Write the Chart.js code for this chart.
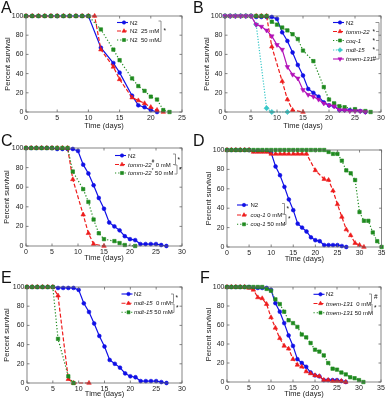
<!DOCTYPE html>
<html lang="en">
<head>
    <meta charset="UTF-8">
    <title>Survival curves</title>
    <script src="https://cdn.jsdelivr.net/npm/chart.js"></script>
    <style>
        body { margin: 0; background: #fff; font-family: "Liberation Sans", Arial, sans-serif; }
        #fig { position: relative; width: 387px; height: 400px; overflow: hidden; }
        #fig canvas { position: absolute; }
        .tag { position: absolute; font-size: 16px; line-height: 16px; color: #111; }
    </style>
</head>
<body>
<div id="fig">
    <canvas id="chartA" width="193" height="130" style="left:0;top:0"></canvas>
    <canvas id="chartB" width="194" height="130" style="left:193px;top:0"></canvas>
    <canvas id="chartC" width="193" height="135" style="left:0;top:130px"></canvas>
    <canvas id="chartD" width="194" height="135" style="left:193px;top:130px"></canvas>
    <canvas id="chartE" width="193" height="135" style="left:0;top:265px"></canvas>
    <canvas id="chartF" width="194" height="135" style="left:193px;top:265px"></canvas>
    <div class="tag" style="left:1px;top:0">A</div>
    <div class="tag" style="left:193px;top:0">B</div>
    <div class="tag" style="left:1px;top:133px">C</div>
    <div class="tag" style="left:193px;top:133px">D</div>
    <div class="tag" style="left:1px;top:270px">E</div>
    <div class="tag" style="left:200px;top:270px">F</div>
</div>

<script>
    // ---- data (days, percent survival) ----
    // panel A
    const aN2Days = [0,1,2,3,4,5,6,7,8,9,10,12,14,15,17,18,19,20,21];
    const aN2Surv = [100,100,100,100,100,100,100,100,100,100,100,67,51,41,17,7,5,2,0];
    const a25Days = [0,1,2,3,4,5,6,7,8,9,10,11,12,14,15,17,18,19,20,21,22];
    const a25Surv = [100,100,100,100,100,100,100,100,100,100,100,100,65,47,34,15,12,9,5,2,0];
    const a50Days = [0,1,2,3,4,5,6,7,8,9,10,12,14,15,17,18,19,20,21,22,23];
    const a50Surv = [100,100,100,100,100,100,100,100,100,100,100,86,65,54,35,27,22,16,13,2,0];

    // N2 control used in B-F
    const n2Days = [0,1,2,3,4,5,6,7,8,9,10,11,12,13,14,15,16,17,18,19,20,21,22,23,24,25,26,27];
    const n2Surv = [100,100,100,100,100,100,99,99,99,99,97,83,74,62,49,38,24,20,16,10,7,6,2,2,2,2,1,0];

    // tomm-22
    const tommDays = [0,1,2,3,4,5,6,7,8,9,11,12,13,15];
    const tommSurv = [100,100,100,100,100,100,100,100,100,68,32,13,2,0];
    const tomm50Days = [0,1,2,3,4,5,6,7,8,9,11,12,13,14,15,17,18,19,21];
    const tomm50Surv = [100,100,100,100,100,100,100,100,100,76,58,45,27,13,7,5,3,1,0];

    // coq-1 (panel B)
    const coqDays = [0,1,2,3,4,5,6,7,8,9,10,11,12,13,14,15,17,19,20,21,22,23,25,27,28];
    const coqSurv = [100,100,100,100,100,100,100,100,100,94,91,88,85,81,76,64,53,26,13,9,6,5,3,1,0];

    // mdt-15
    const mdtDays = [0,1,2,3,4,5,6,8,9,12];
    const mdtSurv = [100,100,100,100,100,100,91,4,0,0];
    const mdt50Days = [0,1,2,3,4,5,6,8,9];
    const mdt50Surv = [100,100,100,100,100,100,46,7,0];

    // tmem-131 (panel B)
    const tmemDays = [0,1,2,3,4,5,6,7,8,9,10,11,12,13,14,15,16,17,18,19,20,21,22,23,24,25,26,27];
    const tmemSurv = [100,100,100,100,100,100,91,89,85,79,70,65,47,39,35,23,18,16,13,9,7,6,2,2,1,1,1,0];

    // coq-1 0 / 50 mM (panel D)
    const coq0Days = [0,1,2,3,4,5,6,7,8,9,10,11,12,13,14,15,16,17,18,20,22,23,24,25,26,27,28,29,30,31];
    const coq0Surv = [100,100,100,100,100,100,98,98,98,98,96,96,96,96,96,96,96,96,96,79,70,69,58,44,31,18,12,4,2,0];
    const coq50Days = [0,1,2,3,4,5,6,7,8,9,10,11,12,13,14,15,16,17,18,19,20,21,22,23,24,25,26,27,28,29,30,31,32,33,34,35];
    const coq50Surv = [100,100,100,100,100,100,100,100,100,100,100,100,100,100,100,100,100,100,100,100,100,100,100,98,96,96,89,79,76,69,36,27,27,15,6,0];

    // tmem-131 0 / 50 mM (panel F)
    const tmem0Days = [0,1,2,3,4,5,6,7,8,9,10,11,12,13,14,15,16,17,18,19,20,21,22,23,24,25,26,27];
    const tmem0Surv = [100,100,100,100,100,99,97,89,88,82,68,57,46,38,35,24,18,16,11,9,7,6,2,2,1,1,1,0];
    const tmem50Days = [0,1,2,3,4,5,6,7,8,9,10,11,12,13,14,15,16,17,18,19,20,21,22,23,24,25,26,27,28,29,30,31];
    const tmem50Surv = [100,100,100,100,100,100,100,100,100,98,96,87,82,74,65,62,58,50,47,41,34,32,28,20,14,13,10,8,5,4,2,0];

    // ---- styles ----
    const BLUE = '#1010e6', RED = '#ee1c1c', GREEN = '#1f8a1f', CYAN = '#38c8c8', MAGENTA = '#b312b8';
    const styles = {
        blue:    { color: BLUE,    dash: [],     shape: 'circle',   r: 1.9, rot: 0 },
        red:     { color: RED,     dash: [4, 2], shape: 'triangle', r: 2.6, rot: 0 },
        green:   { color: GREEN,   dash: [1.2, 2], shape: 'rect',   r: 2.4, rot: 0 },
        cyan:    { color: CYAN,    dash: [1.2, 1.6], shape: 'rectRot', r: 2.6, rot: 0 },
        magenta: { color: MAGENTA, dash: [],     shape: 'triangle', r: 2.6, rot: 180 }
    };

    const FONT = '"Liberation Sans", Arial, sans-serif';
    const pts = (d, s) => d.map((x, i) => ({ x: x, y: s[i] }));

    function drawMarker(ctx, shape, x, y, r, rot) {
        ctx.beginPath();
        if (shape === 'circle') {
            ctx.arc(x, y, r, 0, Math.PI * 2);
        } else if (shape === 'rect') {
            const h = r * Math.SQRT1_2;
            ctx.rect(x - h, y - h, 2 * h, 2 * h);
        } else if (shape === 'rectRot') {
            ctx.moveTo(x, y - r); ctx.lineTo(x + r, y); ctx.lineTo(x, y + r); ctx.lineTo(x - r, y); ctx.closePath();
        } else {
            let a = rot * Math.PI / 180;
            ctx.moveTo(x + Math.sin(a) * r, y - Math.cos(a) * r);
            a += 2 * Math.PI / 3;
            ctx.lineTo(x + Math.sin(a) * r, y - Math.cos(a) * r);
            a += 2 * Math.PI / 3;
            ctx.lineTo(x + Math.sin(a) * r, y - Math.cos(a) * r);
            ctx.closePath();
        }
        ctx.fill();
        ctx.stroke();
    }

    // frame, inward ticks, legend, significance brackets
    const extras = {
        id: 'extras',
        afterDatasetsDraw(chart, args, o) {
            const ctx = chart.ctx, a = chart.chartArea;
            const ox = o.ox, oy = o.oy;
            ctx.save();
            ctx.strokeStyle = '#666';
            ctx.lineWidth = 0.8;
            ctx.setLineDash([]);
            ctx.strokeRect(a.left, a.top, a.right - a.left, a.bottom - a.top);
            // inward tick marks
            ctx.beginPath();
            chart.scales.x.ticks.forEach(t => {
                const px = chart.scales.x.getPixelForValue(t.value);
                ctx.moveTo(px, a.bottom); ctx.lineTo(px, a.bottom - 2.5);
                ctx.moveTo(px, a.top); ctx.lineTo(px, a.top + 2.5);
            });
            chart.scales.y.ticks.forEach(t => {
                const py = chart.scales.y.getPixelForValue(t.value);
                ctx.moveTo(a.left, py); ctx.lineTo(a.left + 2.5, py);
                ctx.moveTo(a.right, py); ctx.lineTo(a.right - 2.5, py);
            });
            ctx.stroke();

            // legend rows
            const lg = o.legend;
            lg.rows.forEach((parts, i) => {
                const st = o.sets[i];
                const y = lg.y[i] - oy, x = lg.x - ox;
                ctx.strokeStyle = st.color;
                ctx.fillStyle = st.color;
                ctx.lineWidth = 1.1;
                ctx.setLineDash(st.dash);
                ctx.beginPath(); ctx.moveTo(x, y); ctx.lineTo(x + 11, y); ctx.stroke();
                ctx.setLineDash([]);
                ctx.lineWidth = 0.6;
                drawMarker(ctx, st.shape, x + 7, y, st.r * 0.9, st.rot);
                let tx = lg.tx - ox;
                ctx.fillStyle = '#111';
                ctx.textBaseline = 'middle';
                ctx.textAlign = 'left';
                parts.forEach(p => {
                    const size = p.sup ? 4.5 : 6;
                    ctx.font = (p.it ? 'italic ' : '') + size + 'px ' + FONT;
                    ctx.fillText(p.t, tx, p.sup ? y - 2.5 : y + 0.5);
                    tx += ctx.measureText(p.t).width;
                });
            });

            // brackets
            ctx.strokeStyle = '#777';
            ctx.lineWidth = 0.8;
            (o.paths || []).forEach(path => {
                ctx.beginPath();
                path.forEach((p, k) => k ? ctx.lineTo(p[0] - ox, p[1] - oy) : ctx.moveTo(p[0] - ox, p[1] - oy));
                ctx.stroke();
            });
            ctx.fillStyle = '#111';
            ctx.font = '6.5px ' + FONT;
            ctx.textBaseline = 'middle';
            ctx.textAlign = 'left';
            (o.syms || []).forEach(s => ctx.fillText(s.t, s.x - ox, s.y - oy));
            ctx.restore();
        }
    };

    function makePanel(id, g, xMax, series, legend, paths, syms) {
        const sets = series.map(s => styles[s.style]);
        const datasets = series.map((s, i) => {
            const st = styles[s.style];
            return {
                data: pts(s.days, s.surv),
                borderColor: st.color,
                backgroundColor: st.color,
                borderWidth: 1.2,
                borderDash: st.dash,
                pointStyle: st.shape,
                pointRotation: st.rot,
                pointRadius: st.r,
                pointBorderWidth: 0.6,
                pointBackgroundColor: st.color,
                pointBorderColor: st.color,
                tension: 0,
                clip: false,
                order: series.length - i
            };
        });
        const tickFont = { family: FONT, size: 7 };
        const titleFont = { family: FONT, size: 7.5 };
        new Chart(document.getElementById(id), {
            type: 'line',
            data: { datasets: datasets },
            options: {
                responsive: false,
                animation: false,
                events: [],
                layout: {
                    autoPadding: false,
                    padding: { left: 0, top: g.pt - g.top, right: g.left + g.w - g.pr, bottom: 0 }
                },
                plugins: {
                    legend: { display: false },
                    tooltip: { enabled: false },
                    extras: { ox: g.left, oy: g.top, sets: sets, legend: legend, paths: paths, syms: syms }
                },
                scales: {
                    x: {
                        type: 'linear', min: 0, max: xMax,
                        ticks: { stepSize: 5, padding: 1.5, font: tickFont, color: '#222', maxRotation: 0 },
                        grid: { display: false, drawTicks: false },
                        border: { display: false },
                        title: { display: true, text: 'Time (days)', font: titleFont, color: '#222',
                                 padding: { top: 0, bottom: g.xtp } },
                        afterFit: s => { s.height = g.top + g.h - g.pb; }
                    },
                    y: {
                        min: 0, max: 100,
                        ticks: { stepSize: 20, padding: 2.5, font: tickFont, color: '#222' },
                        grid: { display: false, drawTicks: false },
                        border: { display: false },
                        title: { display: true, text: 'Percent survival', font: titleFont, color: '#222',
                                 padding: { top: g.ytp, bottom: 0 } },
                        afterFit: s => { s.width = g.pl - g.left; }
                    }
                }
            },
            plugins: [extras]
        });
    }

    const T = (t, it, sup) => ({ t: t, it: !!it, sup: !!sup });

    // A
    makePanel('chartA', { left: 0, top: 0, w: 193, h: 130, pl: 26, pr: 182, pt: 16, pb: 112, ytp: 3, xtp: 0 }, 25,
        [{ days: aN2Days, surv: aN2Surv, style: 'blue' },
         { days: a25Days, surv: a25Surv, style: 'red' },
         { days: a50Days, surv: a50Surv, style: 'green' }],
        { x: 117, tx: 130, y: [22.5, 31, 40],
          rows: [[T('N2')], [T('N2  25 mM')], [T('N2  50 mM')]] },
        [[[158.5, 21], [161, 21], [161, 41.5], [158.5, 41.5]]],
        [{ t: '*', x: 163.5, y: 31.5 }]);

    // B
    makePanel('chartB', { left: 193, top: 0, w: 194, h: 130, pl: 225, pr: 381, pt: 16, pb: 112, ytp: 9.5, xtp: 0 }, 30,
        [{ days: n2Days, surv: n2Surv, style: 'blue' },
         { days: tommDays, surv: tommSurv, style: 'red' },
         { days: coqDays, surv: coqSurv, style: 'green' },
         { days: mdtDays, surv: mdtSurv, style: 'cyan' },
         { days: tmemDays, surv: tmemSurv, style: 'magenta' }],
        { x: 333, tx: 346, y: [22.5, 31.5, 40.5, 50, 59],
          rows: [[T('N2')], [T('tomm-22', 1)], [T('coq-1', 1)], [T('mdt-15', 1)], [T('tmem-131', 1)]] },
        [[[379, 22.5], [379, 59]],
         [[375.5, 22.5], [379, 22.5]], [[376, 31.5], [379, 31.5]], [[376, 40.5], [379, 40.5]],
         [[376, 50], [379, 50]], [[376, 59], [379, 59]]],
        [{ t: '*', x: 372.5, y: 32 }, { t: '*', x: 372.5, y: 41 }, { t: '*', x: 372.5, y: 50.5 }, { t: '#', x: 372.5, y: 59 }]);

    // C
    makePanel('chartC', { left: 0, top: 130, w: 193, h: 135, pl: 26, pr: 182, pt: 148, pb: 246, ytp: 2, xtp: 2.8 }, 30,
        [{ days: n2Days, surv: n2Surv, style: 'blue' },
         { days: tommDays, surv: tommSurv, style: 'red' },
         { days: tomm50Days, surv: tomm50Surv, style: 'green' }],
        { x: 115, tx: 128, y: [155.5, 164.5, 173],
          rows: [[T('N2')], [T('tomm-22', 1), T('#', 0, 1), T(' 0 mM')], [T('tomm-22', 1), T('*', 0, 1), T(' 50 mM')]] },
        [[[173, 154], [175.5, 154], [175.5, 164.5], [173, 164.5]],
         [[174.5, 165], [177, 165], [177, 174], [174.5, 174]]],
        [{ t: '*', x: 177.5, y: 160 }, { t: '*', x: 179, y: 170 }]);

    // D
    makePanel('chartD', { left: 193, top: 130, w: 194, h: 135, pl: 227, pr: 383, pt: 150, pb: 247, ytp: 11.5, xtp: 1.2 }, 35,
        [{ days: n2Days, surv: n2Surv, style: 'blue' },
         { days: coq0Days, surv: coq0Surv, style: 'red' },
         { days: coq50Days, surv: coq50Surv, style: 'green' }],
        { x: 237, tx: 250.5, y: [205, 215, 224.3],
          rows: [[T('N2')], [T('coq-1', 1), T(' 0 mM')], [T('coq-1', 1), T(' 50 mM')]] },
        [[[282, 203.5], [284.5, 203.5], [284.5, 214], [282, 214]],
         [[283.5, 214.5], [286, 214.5], [286, 224.5], [283.5, 224.5]]],
        [{ t: '*', x: 286.5, y: 209.5 }, { t: '*', x: 288, y: 219.5 }]);

    // E
    makePanel('chartE', { left: 0, top: 265, w: 193, h: 135, pl: 27, pr: 182, pt: 287, pb: 383, ytp: 2.5, xtp: 1.2 }, 30,
        [{ days: n2Days, surv: n2Surv, style: 'blue' },
         { days: mdtDays, surv: mdtSurv, style: 'red' },
         { days: mdt50Days, surv: mdt50Surv, style: 'green' }],
        { x: 121.5, tx: 134, y: [294, 303.3, 312.3],
          rows: [[T('N2')], [T('mdt-15', 1), T('  0 mM')], [T('mdt-15', 1), T(' 50 mM')]] },
        [[[171, 294], [173.5, 294], [173.5, 302.5], [171, 302.5]],
         [[171.5, 304], [174, 304], [174, 312.5], [171.5, 312.5]]],
        [{ t: '*', x: 175.5, y: 298 }, { t: '*', x: 176, y: 308 }]);

    // F
    makePanel('chartF', { left: 193, top: 265, w: 194, h: 135, pl: 227, pr: 381, pt: 287, pb: 382, ytp: 11.5, xtp: 1.5 }, 35,
        [{ days: n2Days, surv: n2Surv, style: 'blue' },
         { days: tmem0Days, surv: tmem0Surv, style: 'red' },
         { days: tmem50Days, surv: tmem50Surv, style: 'green' }],
        { x: 313.5, tx: 326, y: [294.3, 303.5, 312.7],
          rows: [[T('N2')], [T('tmem-131', 1), T('  0 mM')], [T('tmem-131', 1), T(' 50 mM')]] },
        [[[369, 294], [371.5, 294], [371.5, 302.5], [369, 302.5]],
         [[369.5, 304], [372, 304], [372, 313], [369.5, 313]]],
        [{ t: '#', x: 374, y: 297.5 }, { t: '*', x: 374, y: 308.5 }]);
</script>
</body>
</html>
